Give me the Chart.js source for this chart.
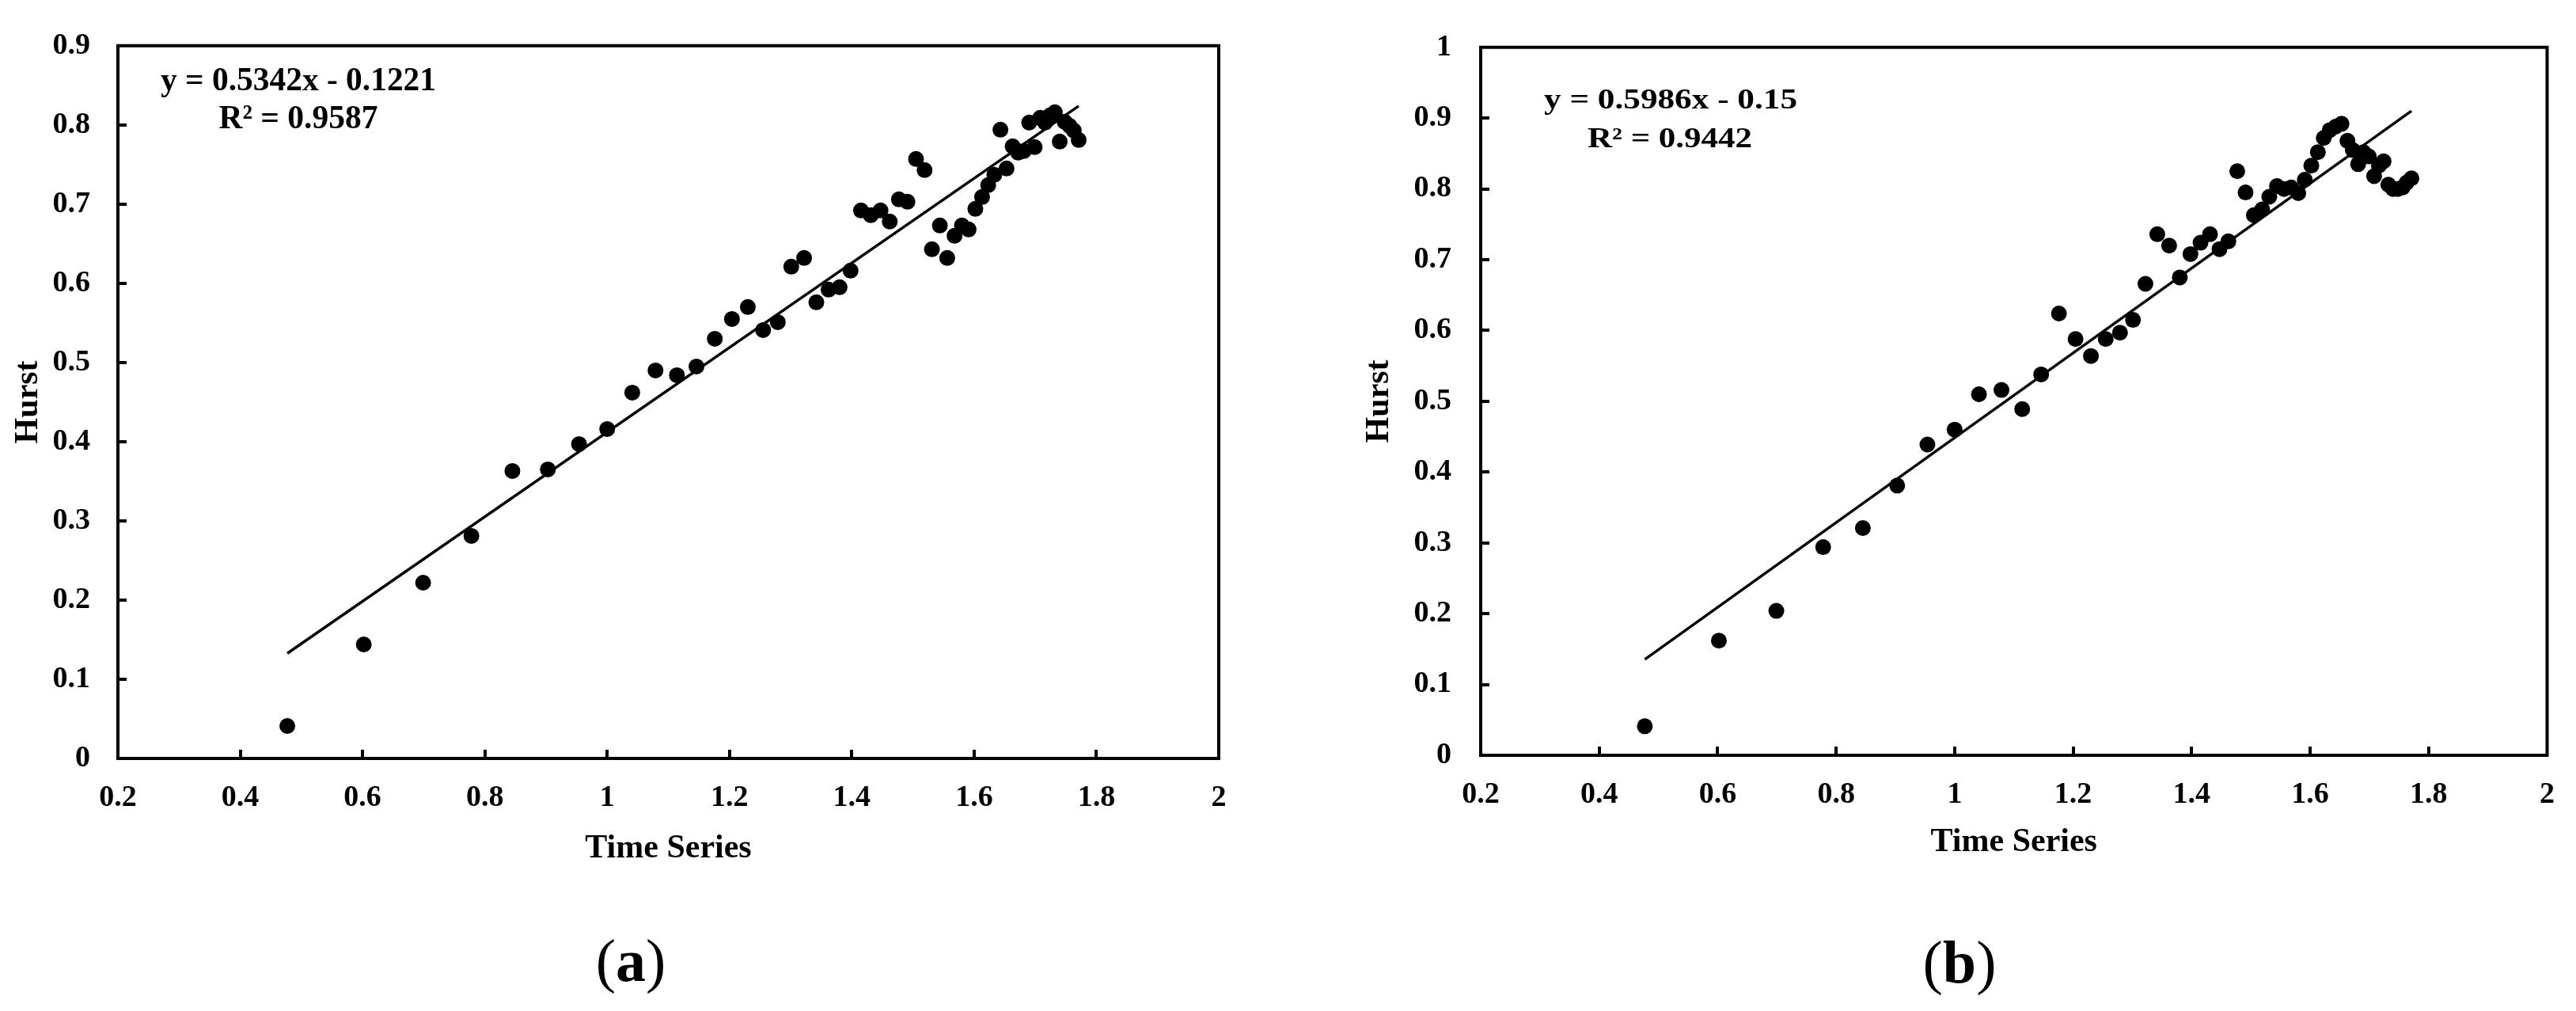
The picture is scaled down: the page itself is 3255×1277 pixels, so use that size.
<!DOCTYPE html>
<html><head><meta charset="utf-8">
<script src="https://cdn.jsdelivr.net/npm/chart.js@4.4.1/dist/chart.umd.min.js"></script>
<style>
html,body{margin:0;padding:0;background:#fff;}
body{width:3255px;height:1277px;position:relative;overflow:hidden;}
canvas{position:absolute;top:0;}
#ca{left:0;} #cb{left:1620px;}
</style></head><body>
<canvas id="ca" width="1620" height="1277"></canvas>
<canvas id="cb" width="1635" height="1277"></canvas>
<script>
// Time Series (x) values
const timeSeries = [0.477,0.602,0.699,0.778,0.845,0.903,0.954,1.000,1.041,1.079,1.114,1.146,1.176,1.204,1.230,1.255,1.279,1.301,1.322,1.342,1.362,1.380,1.398,1.415,1.431,1.447,1.462,1.477,1.491,1.505,1.519,1.531,1.544,1.556,1.568,1.580,1.591,1.602,1.613,1.623,1.633,1.643,1.653,1.663,1.672,1.681,1.690,1.699,1.708,1.716,1.724,1.732,1.740,1.748,1.756,1.763,1.771];
// Hurst values, panel (a)
const hurstA = [0.041,0.144,0.222,0.281,0.363,0.365,0.397,0.416,0.462,0.490,0.484,0.495,0.530,0.555,0.570,0.541,0.551,0.621,0.632,0.576,0.592,0.595,0.616,0.692,0.686,0.692,0.678,0.706,0.703,0.757,0.743,0.643,0.673,0.632,0.660,0.673,0.668,0.694,0.709,0.724,0.737,0.794,0.745,0.773,0.765,0.767,0.803,0.772,0.809,0.803,0.812,0.816,0.779,0.804,0.799,0.793,0.781];
// Hurst values, panel (b)
const hurstB = [0.041,0.162,0.204,0.294,0.321,0.381,0.439,0.460,0.510,0.516,0.489,0.538,0.624,0.588,0.564,0.588,0.597,0.615,0.666,0.736,0.720,0.675,0.708,0.724,0.736,0.715,0.726,0.825,0.795,0.763,0.771,0.789,0.804,0.800,0.802,0.794,0.813,0.833,0.852,0.872,0.883,0.888,0.892,0.868,0.855,0.835,0.852,0.846,0.818,0.833,0.839,0.806,0.800,0.800,0.802,0.809,0.815];
// Linear fits shown on the chart: [slope, intercept, R²]
const fitA = [0.5342, -0.1221, 0.9587];
const fitB = [0.5986, -0.15, 0.9442];
// Tick labels
const xTickLabels = ['0.2','0.4','0.6','0.8','1','1.2','1.4','1.6','1.8','2'];
const yTickLabelsA = ['0','0.1','0.2','0.3','0.4','0.5','0.6','0.7','0.8','0.9'];
const yTickLabelsB = ['0','0.1','0.2','0.3','0.4','0.5','0.6','0.7','0.8','0.9','1'];
const axisTitles = ['Time Series', 'Hurst'];
const panelLabels = ['(a)', '(b)'];

const FONT = '"Liberation Serif","Times New Roman",serif';

function fitText(ctx, text, cx, baseline, font, width) {
  ctx.save();
  ctx.font = font;
  const w = ctx.measureText(text).width;
  ctx.translate(cx, baseline);
  ctx.scale(width / w, 1);
  ctx.textAlign = 'center';
  ctx.textBaseline = 'alphabetic';
  ctx.fillStyle = '#000';
  ctx.fillText(text, 0, 0);
  ctx.restore();
}

const decorPlugin = {
  id: 'decor',
  afterDraw(chart, args, o) {
    const {ctx, chartArea: a, scales: {x, y}} = chart;
    ctx.save();
    ctx.strokeStyle = '#000';
    ctx.lineCap = 'square';
    ctx.lineWidth = o.frameWidth;
    ctx.beginPath();
    ctx.moveTo(a.left, a.top); ctx.lineTo(a.right, a.top); ctx.lineTo(a.right, a.bottom);
    ctx.stroke();
    ctx.lineCap = 'butt';
    ctx.lineWidth = o.tickWidth;
    ctx.beginPath();
    x.ticks.forEach((t, i) => {
      if (i === 0 || i === x.ticks.length - 1) return;
      const px = Math.round(x.getPixelForValue(t.value));
      ctx.moveTo(px, a.bottom); ctx.lineTo(px, a.bottom - o.tickLen);
    });
    y.ticks.forEach((t, i) => {
      if (i === 0 || i === y.ticks.length - 1) return;
      const py = Math.round(y.getPixelForValue(t.value));
      ctx.moveTo(a.left, py); ctx.lineTo(a.left + o.tickLen, py);
    });
    ctx.stroke();
    ctx.restore();
    // regression text
    const f = o.fit;
    const eq1 = 'y = ' + f[0] + 'x ' + (f[1] < 0 ? '- ' : '+ ') + Math.abs(f[1]);
    const eq2 = 'R\u00B2 = ' + f[2];
    fitText(ctx, eq1, o.eq1[0], o.eq1[1], 'bold ' + o.eqSize + 'px ' + FONT, o.eq1[2]);
    fitText(ctx, eq2, o.eq2[0], o.eq2[1], 'bold ' + o.eqSize + 'px ' + FONT, o.eq2[2]);
    // panel label
    const lab = o.label; // e.g. "(a)"
    const pn = o.labSize + 'px ' + FONT, pb = 'bold ' + o.labSize + 'px ' + FONT;
    ctx.save();
    ctx.fillStyle = '#000';
    ctx.textBaseline = 'alphabetic';
    ctx.textAlign = 'left';
    const parts = [[lab[0], pn], [lab.slice(1, -1), pb], [lab.slice(-1), pn]];
    let tw = 0;
    parts.forEach(p => { ctx.font = p[1]; p.push(ctx.measureText(p[0]).width); tw += p[2]; });
    let cx = o.labPos[0] - tw / 2;
    parts.forEach(p => { ctx.font = p[1]; ctx.fillText(p[0], cx, o.labPos[1]); cx += p[2]; });
    ctx.restore();
  }
};

function makeChart(id, ys, fit, yLabels, cfg) {
  const xMin = Math.min(...timeSeries), xMax = Math.max(...timeSeries);
  const trend = [{x: xMin, y: fit[0] * xMin + fit[1]}, {x: xMax, y: fit[0] * xMax + fit[1]}];
  const pts = timeSeries.map((v, i) => ({x: v, y: ys[i]}));
  const yVals = yLabels.map(Number), xVals = xTickLabels.map(Number);
  return new Chart(document.getElementById(id), {
    type: 'scatter',
    data: {
      datasets: [
        {data: pts, backgroundColor: '#000', borderColor: '#000', pointRadius: 10, pointHoverRadius: 10, borderWidth: 0, order: 1},
        {type: 'line', data: trend, borderColor: '#000', borderWidth: 3.5, pointRadius: 0, fill: false, order: 2}
      ]
    },
    options: {
      responsive: false, animation: false,
      layout: {padding: cfg.padding},
      plugins: {legend: {display: false}, tooltip: {enabled: false},
        decor: {frameWidth: 4, tickWidth: 4, tickLen: 11, fit: fit, eqSize: cfg.eqSize, eq1: cfg.eq1, eq2: cfg.eq2,
                label: cfg.label, labSize: 76, labPos: cfg.labPos}},
      scales: {
        x: {
          type: 'linear', min: xVals[0], max: xVals[xVals.length - 1],
          afterBuildTicks: s => { s.ticks = xVals.map(v => ({value: v})); },
          afterFit: s => { s.height = 140; },
          grid: {display: false, drawTicks: false},
          border: {display: true, color: '#000', width: 4},
          ticks: {color: '#000', padding: cfg.xTickPad, font: {family: FONT, size: 38, weight: 'bold'}, maxRotation: 0, autoSkip: false,
                  callback: (v, i) => xTickLabels[i]},
          title: {display: true, text: axisTitles[0], color: '#000', font: {family: FONT, size: 42, weight: 'bold'}, padding: {top: 0, bottom: cfg.xTitlePad}}
        },
        y: {
          type: 'linear', min: yVals[0], max: yVals[yVals.length - 1],
          afterBuildTicks: s => { s.ticks = yVals.map(v => ({value: v})); },
          afterFit: s => { s.width = cfg.yWidth; },
          grid: {display: false, drawTicks: false},
          border: {display: true, color: '#000', width: 4},
          ticks: {color: '#000', padding: cfg.yTickPad, font: {family: FONT, size: 38, weight: 'bold'}, autoSkip: false,
                  callback: (v, i) => yLabels[i]},
          title: {display: true, text: axisTitles[1], color: '#000', font: {family: FONT, size: 42, weight: 'bold'}, padding: {top: cfg.yTitlePad, bottom: 0}}
        }
      }
    },
    plugins: [decorPlugin]
  });
}

makeChart('ca', hurstA, fitA, yTickLabelsA, {
  padding: {left: 0, top: 44, right: 80, bottom: 179},
  yWidth: 149, xTickPad: 27, yTickPad: 35, xTitlePad: 1, yTitlePad: 11,
  eqSize: 42, eq1: [377, 114, 348], eq2: [377, 162, 201],
  label: panelLabels[0], labPos: [797, 1239]
});
makeChart('cb', hurstB, fitB, yTickLabelsB, {
  padding: {left: 91, top: 49, right: 33, bottom: 183},
  yWidth: 160, xTickPad: 27, yTickPad: 37, xTitlePad: 5, yTitlePad: 7,
  eqSize: 35, eq1: [491, 137, 320], eq2: [490, 186, 208],
  label: panelLabels[1], labPos: [856, 1241]
});
</script>
</body></html>
